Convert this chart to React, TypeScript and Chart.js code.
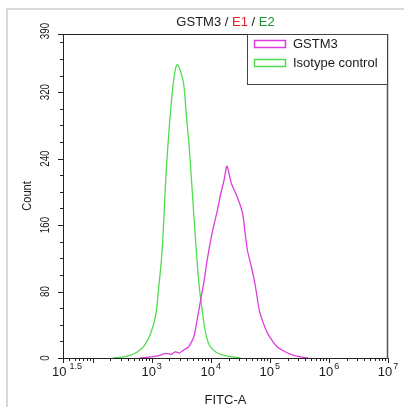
import React, { useEffect, useRef } from "react";
import { Chart, registerables } from "chart.js";

Chart.register(...registerables);

// ---- data ----
const seriesLabels = ["GSTM3", "Isotype control"];
const seriesColors = ["#dd3ddd", "#4fdc4f"];

const gstm3X = [631, 891, 1122, 1413, 1778, 2138, 2512, 2951, 3548, 4169, 4786, 5248, 5754, 6310, 6918, 7691, 8710, 10000, 11482, 13002, 14791, 16596, 18707, 19953, 22387, 26607, 30200, 34674, 38019, 41687, 47863, 54450, 60256, 66069, 77625, 91201, 112202, 134896, 165959, 199526, 263027, 354813, 446684];
const gstm3Y = [0, 1, 2, 3.5, 5.5, 4.5, 7.5, 6, 10, 13, 20, 27, 42, 58, 74, 92, 118, 142, 162, 178, 198, 212, 231, 225, 210, 198, 188, 174, 152, 130, 112, 94, 76, 58, 42, 30, 20, 13, 9, 6, 3, 1, 0];

const isoX = [224, 316, 437, 562, 735, 933, 1161, 1318, 1507, 1718, 1837, 2089, 2344, 2570, 2716, 2951, 3236, 3516, 3890, 4365, 5200, 6310, 7244, 8222, 9550, 12882, 19953, 31623];
const isoY = [0, 1, 3.5, 7, 14, 27, 50, 85, 130, 210, 244, 297, 333, 350, 353, 349, 340, 328, 290, 250, 170, 90, 55, 30, 15, 6, 2, 0];

const xMajorValues = [31.6227766, 100, 1000, 10000, 100000, 1000000, 10000000];
const xTickExponents = ["1.5", "", "3", "4", "5", "6", "7"];
const yMajorValues = [0, 80, 160, 240, 320, 390];
const yMinorStep = 20;

const titleParts = [
  { text: "GSTM3", color: "#1a1a1a" },
  { text: " / ", color: "#1a1a1a" },
  { text: "E1", color: "#e0202a" },
  { text: " / ", color: "#1a1a1a" },
  { text: "E2", color: "#1f8f2f" },
];
const xTitle = "FITC-A";
const yTitle = "Count";

const FONT = '"Liberation Sans", Arial, sans-serif';
const TEXT = "#1a1a1a";

function toPoints(xs: number[], ys: number[]) {
  return xs.map((x, i) => ({ x, y: ys[i] }));
}

const decorPlugin = {
  id: "decor",
  beforeDraw(chart: any) {
    const ctx = chart.ctx;
    ctx.save();
    ctx.fillStyle = "#ffffff";
    ctx.fillRect(0, 0, chart.width, chart.height);
    ctx.strokeStyle = "#d9d9d9";
    ctx.lineWidth = 2;
    ctx.beginPath();
    ctx.moveTo(7, chart.height);
    ctx.lineTo(7, 9);
    ctx.lineTo(chart.width, 9);
    ctx.stroke();
    ctx.restore();
  },
  afterDraw(chart: any) {
    const ctx = chart.ctx;
    const a = chart.chartArea;
    const xs = chart.scales.x;
    const ys = chart.scales.y;
    ctx.save();
    // box
    ctx.lineWidth = 1;
    ctx.strokeStyle = "#222";
    ctx.beginPath();
    ctx.moveTo(a.left + 0.5, a.top + 0.5);
    ctx.lineTo(a.right - 0.5, a.top + 0.5);
    ctx.moveTo(a.left + 0.5, a.top);
    ctx.lineTo(a.left + 0.5, a.bottom + 0.5);
    ctx.lineTo(a.right, a.bottom + 0.5);
    ctx.stroke();
    ctx.strokeStyle = "#555";
    ctx.lineWidth = 1.5;
    ctx.beginPath();
    ctx.moveTo(a.right - 0.5, a.top);
    ctx.lineTo(a.right - 0.5, a.bottom + 1);
    ctx.stroke();

    // x ticks
    ctx.strokeStyle = "#222";
    ctx.lineWidth = 1;
    ctx.beginPath();
    const xMin = xs.min, xMax = xs.max;
    for (let e = 1; e <= 7; e++) {
      for (let k = 1; k <= 9; k++) {
        const v = k * Math.pow(10, e);
        if (v < xMin * 0.999 || v > xMax * 1.001) continue;
        const px = Math.round(xs.getPixelForValue(v)) + 0.5;
        const len = k === 1 ? 5 : 3;
        ctx.moveTo(px, a.bottom);
        ctx.lineTo(px, a.bottom + len);
      }
    }
    const p0 = Math.round(xs.getPixelForValue(xMajorValues[0])) + 0.5;
    ctx.moveTo(p0, a.bottom);
    ctx.lineTo(p0, a.bottom + 5);
    // y ticks
    for (let v = 0; v <= ys.max; v += yMinorStep) {
      const py = Math.round(ys.getPixelForValue(v)) + 0.5;
      const len = yMajorValues.includes(v) ? 5 : 3;
      ctx.moveTo(a.left, py);
      ctx.lineTo(a.left - len, py);
    }
    for (const v of yMajorValues) {
      const py = Math.round(ys.getPixelForValue(v)) + 0.5;
      ctx.moveTo(a.left, py);
      ctx.lineTo(a.left - 5, py);
    }
    ctx.stroke();

    ctx.fillStyle = TEXT;
    // x tick labels
    xMajorValues.forEach((v, i) => {
      const exp = xTickExponents[i];
      if (!exp) return;
      const px = xs.getPixelForValue(v);
      ctx.font = `13px ${FONT}`;
      const wb = ctx.measureText("10").width;
      ctx.font = `9px ${FONT}`;
      const we = ctx.measureText(exp).width;
      const gap = exp.length > 1 ? 3 : 1;
      const total = wb + gap + we;
      const x0 = px - total / 2 + (i === 0 ? 4 : 0);
      ctx.textAlign = "left";
      ctx.textBaseline = "alphabetic";
      ctx.font = `13px ${FONT}`;
      ctx.fillText("10", x0, 376);
      ctx.font = `9px ${FONT}`;
      ctx.fillText(exp, x0 + wb + gap, 369);
    });
    // y tick labels (rotated)
    yMajorValues.forEach((v) => {
      const py = ys.getPixelForValue(v);
      ctx.save();
      ctx.translate(45, v === ys.max ? py - 3 : py);
      ctx.rotate(-Math.PI / 2);
      ctx.scale(0.75, 1);
      ctx.font = `13px ${FONT}`;
      ctx.textAlign = "center";
      ctx.textBaseline = "middle";
      ctx.fillText(String(v), 0, 0);
      ctx.restore();
    });
    // axis titles
    ctx.font = `13px ${FONT}`;
    ctx.textAlign = "center";
    ctx.textBaseline = "alphabetic";
    ctx.fillText(xTitle, (a.left + a.right) / 2, 404);
    ctx.save();
    ctx.translate(27, (a.top + a.bottom) / 2);
    ctx.rotate(-Math.PI / 2);
    ctx.scale(0.85, 1);
    ctx.textBaseline = "middle";
    ctx.fillText(yTitle, 0, 0);
    ctx.restore();

    // title
    ctx.font = `13px ${FONT}`;
    const widths = titleParts.map((p) => ctx.measureText(p.text).width);
    const tw = widths.reduce((s, w) => s + w, 0);
    let tx = (a.left + a.right) / 2 - tw / 2;
    ctx.textAlign = "left";
    titleParts.forEach((p, i) => {
      ctx.fillStyle = p.color;
      ctx.fillText(p.text, tx, 26);
      tx += widths[i];
    });

    // legend
    const lx = 247, ly = a.top, lw = a.right - lx, lh = 50;
    ctx.fillStyle = "#ffffff";
    ctx.fillRect(lx, ly, lw, lh);
    ctx.strokeStyle = "#444";
    ctx.lineWidth = 1;
    ctx.strokeRect(lx + 0.5, ly + 0.5, lw - 1, lh);
    chart.data.datasets.forEach((ds: any, i: number) => {
      const cy = 44 + i * 19;
      ctx.strokeStyle = ds.borderColor;
      ctx.lineWidth = 1.5;
      ctx.strokeRect(254.5, cy - 3.5, 31, 7);
      ctx.fillStyle = TEXT;
      ctx.font = `13px ${FONT}`;
      ctx.textBaseline = "middle";
      ctx.fillText(ds.label, 293, cy + 0.5);
    });
    ctx.restore();
  },
};

export default function App() {
  const ref = useRef<HTMLCanvasElement | null>(null);
  useEffect(() => {
    if (!ref.current) return;
    const chart = new Chart(ref.current, {
      type: "line",
      data: {
        datasets: [
          {
            label: seriesLabels[0],
            data: toPoints(gstm3X, gstm3Y),
            borderColor: seriesColors[0],
            borderWidth: 1.3,
            pointRadius: 0,
            tension: 0.25,
            fill: false,
          },
          {
            label: seriesLabels[1],
            data: toPoints(isoX, isoY),
            borderColor: seriesColors[1],
            borderWidth: 1.3,
            pointRadius: 0,
            tension: 0.35,
            fill: false,
          },
        ],
      },
      options: {
        responsive: false,
        animation: false,
        devicePixelRatio: 1,
        layout: { padding: { left: 63, right: 16, top: 34, bottom: 49 } },
        scales: {
          x: { type: "logarithmic", min: 31.6227766, max: 1e7, display: false },
          y: { type: "linear", min: 0, max: 390, display: false },
        },
        plugins: {
          legend: { display: false },
          title: { display: false },
          tooltip: { enabled: false },
        },
      },
      plugins: [decorPlugin],
    });
    return () => chart.destroy();
  }, []);
  return (
    <div style={{ position: "fixed", left: 0, top: 0, width: 404, height: 407, background: "#fff" }}>
      <canvas ref={ref} width={404} height={407} style={{ display: "block", width: 404, height: 407 }} />
    </div>
  );
}
